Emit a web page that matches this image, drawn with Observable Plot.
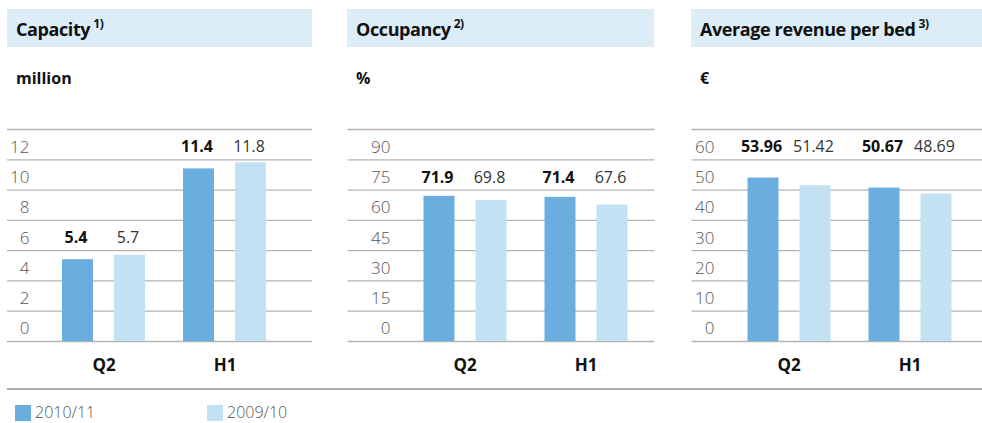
<!DOCTYPE html>
<html>
<head>
<meta charset="utf-8">
<script src="https://cdn.jsdelivr.net/npm/d3@7"></script>
<script src="https://cdn.jsdelivr.net/npm/@observablehq/plot@0.6"></script>
<style>
  html, body { margin: 0; padding: 0; background: #fff; }
  body { width: 982px; height: 423px; position: relative; overflow: hidden; font-family: "Open Sans", "Noto Sans", sans-serif; }
  .panel { position: absolute; top: 0; }
  .head { position: absolute; top: 9px; left: 0; right: 0; height: 38px; background: #dcedf7; }
  .head span.t { position: absolute; left: 9px; top: 7px; font-size: 18px; font-weight: 700; color: #111; letter-spacing: -0.4px; }
  .head sup { font-size: 12px; font-weight: 700; margin-left: 3px; position: relative; top: -1px; }
  .unit { position: absolute; left: 9px; top: 67px; font-size: 16px; font-weight: 700; color: #111; }
  .chart { position: absolute; top: 120px; left: 0; }
  .rule { position: absolute; left: 7px; width: 975px; top: 388px; height: 2px; background: #aaaaaa; }
  .leg { position: absolute; top: 404px; font-size: 16px; line-height: 17px; font-weight: 300; color: #555; }
  .leg i { display: inline-block; width: 16px; height: 16px; vertical-align: -3px; margin-right: 4px; }
</style>
</head>
<body>
<div id="root"></div>
<script>
// ---- data ----
const periods = ["Q2", "H1"];
const seasons = ["2010/11", "2009/10"];

const capacity2010 = [5.4, 11.4];
const capacity2009 = [5.7, 11.8];
const capacityTicks = [0, 2, 4, 6, 8, 10, 12, 14];

const occupancy2010 = [71.9, 71.4];
const occupancy2009 = [69.8, 67.6];
const occupancyTicks = [0, 15, 30, 45, 60, 75, 90, 105];

const revenue2010 = [53.96, 50.67];
const revenue2009 = [51.42, 48.69];
const revenueTicks = [0, 10, 20, 30, 40, 50, 60, 70];

const titles = ["Capacity", "Occupancy", "Average revenue per bed"];
const footnotes = ["1)", "2)", "3)"];
const units = ["million", "%", "€"];

// ---- styling ----
const DARK = "#6aaedf";
const LIGHT = "#c2e1f2";
const GRID = "#b4b4b4";
const FONT = '"Open Sans", "Noto Sans", sans-serif';

const root = document.getElementById("root");

function panel({left, width, ml, mr, v2010, v2009, ticks, title, foot, unit}) {
  const step = ticks[1] - ticks[0];
  const data = [];
  periods.forEach((p, i) => {
    const top = Math.ceil(Math.max(v2010[i], v2009[i]) / step) * step;
    data.push({period: p, season: seasons[0], value: v2010[i], labelY: top});
    data.push({period: p, season: seasons[1], value: v2009[i], labelY: top});
  });
  const div = document.createElement("div");
  div.className = "panel";
  div.style.left = left + "px";
  div.style.width = width + "px";
  div.innerHTML = `<div class="head"><span class="t">${title}<sup>${foot}</sup></span></div><div class="unit">${unit}</div>`;
  const chart = Plot.plot({
    width, height: 265,
    marginTop: 9, marginBottom: 44, marginLeft: ml, marginRight: mr,
    style: {fontFamily: FONT, background: "transparent", overflow: "visible"},
    fx: {domain: periods, padding: 0, label: null, axis: null},
    x: {domain: seasons, paddingInner: 0.41, paddingOuter: 0.357, axis: null},
    y: {domain: [0, ticks[ticks.length - 1]], axis: null},
    marks: [
      Plot.ruleY(ticks, {y: d => d, fx: () => periods[0], stroke: GRID, strokeWidth: 1.3, insetLeft: -ml}),
      Plot.ruleY(ticks, {y: d => d, fx: () => periods[1], stroke: GRID, strokeWidth: 1.3, insetRight: -mr}),
      Plot.barY(data, {fx: "period", x: "season", y: "value", fill: d => d.season === seasons[0] ? DARK : LIGHT}),
      Plot.text(data.filter(d => d.season === seasons[0]), {fx: "period", x: "season", y: "labelY", text: d => String(d.value), fontSize: 16, fontWeight: 700, fill: "#111", dy: -12.5, dx: -2}),
      Plot.text(data.filter(d => d.season === seasons[1]), {fx: "period", x: "season", y: "labelY", text: d => String(d.value), fontSize: 16, fontWeight: 400, fill: "#333", dy: -12.5, dx: -2}),
      Plot.axisY(ticks.slice(0, -1), {tickSize: 0, tickPadding: 14, dy: -12.5, fontSize: 17, fontWeight: 300, fill: "#555", label: null}),
      Plot.axisFx({anchor: "bottom", tickSize: 0, tickPadding: 17, fontSize: 17, fontWeight: 700, fill: "#111", label: null})
    ]
  });
  chart.classList.add("chart");
  div.appendChild(chart);
  root.appendChild(div);
}

panel({left: 7, width: 305, ml: 36, mr: 27, v2010: capacity2010, v2009: capacity2009, ticks: capacityTicks, title: titles[0], foot: footnotes[0], unit: units[0]});
panel({left: 347, width: 307, ml: 56.5, mr: 8.5, v2010: occupancy2010, v2009: occupancy2009, ticks: occupancyTicks, title: titles[1], foot: footnotes[1], unit: units[1]});
panel({left: 691, width: 291, ml: 36.5, mr: 12.5, v2010: revenue2010, v2009: revenue2009, ticks: revenueTicks, title: titles[2], foot: footnotes[2], unit: units[2]});

const rule = document.createElement("div");
rule.className = "rule";
root.appendChild(rule);

const legItems = [{label: seasons[0], color: DARK, left: 15}, {label: seasons[1], color: LIGHT, left: 207}];
for (const it of legItems) {
  const s = document.createElement("div");
  s.className = "leg";
  s.style.left = it.left + "px";
  s.innerHTML = `<i style="background:${it.color}"></i>${it.label}`;
  root.appendChild(s);
}
</script>
</body>
</html>
